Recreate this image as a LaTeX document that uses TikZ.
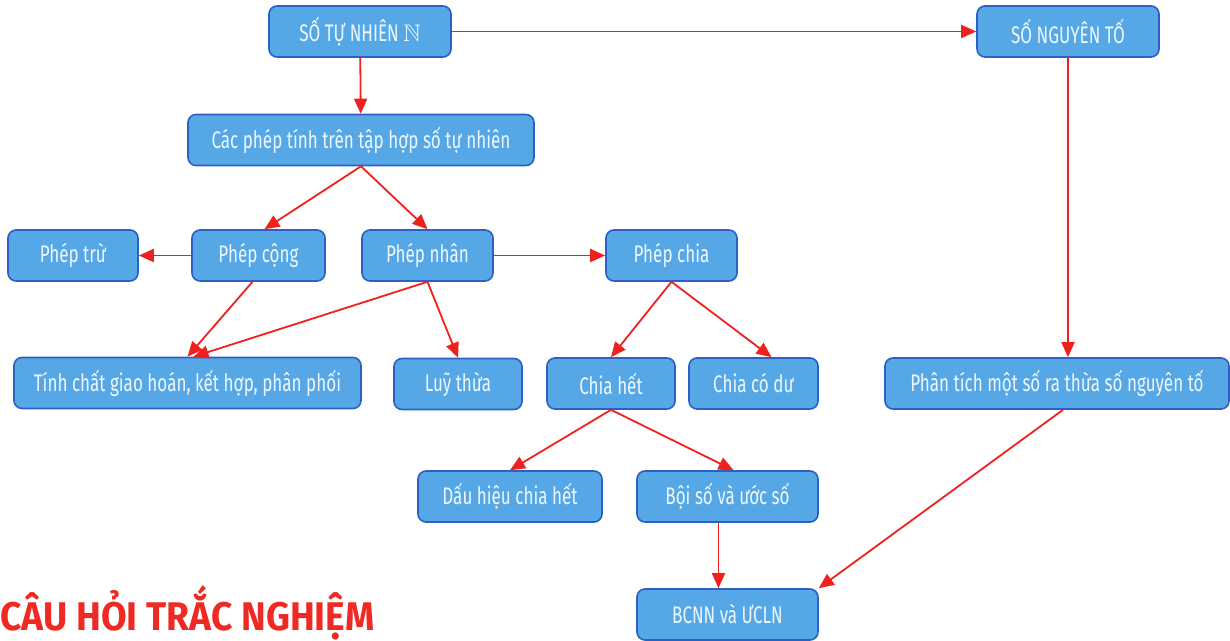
\documentclass[tikz,border=0pt]{standalone}
\usepackage{amssymb}
\usepackage{fontspec}
\newfontfamily\boxfont{Fira Sans}[FakeStretch=0.71]
\newfontfamily\titlefont{Fira Sans}[FakeStretch=0.93]
\usetikzlibrary{arrows.meta}
\definecolor{boxfill}{HTML}{55A8E5}
\definecolor{boxline}{HTML}{2E5FC2}
\definecolor{boxtext}{HTML}{EEF6FD}
\definecolor{arrowred}{HTML}{F0201C}
\definecolor{titlered}{HTML}{EE2A24}

\tikzset{
    box/.style={draw=boxline, fill=boxfill, line width=0.8pt, rounded corners=4pt,
        text=boxtext, font=\boxfont\fontsize{12}{14}\selectfont,
        minimum height=25.5pt, inner sep=2pt},
    link/.style={draw=arrowred, line width=0.9pt, -{Triangle[length=7.5pt,width=6.5pt]}}
}

\begin{document}
\begin{tikzpicture}[x=0.5pt, y=-0.5pt]
    \useasboundingbox (0,0) rectangle (1230,641);

    \node[box, minimum width=91pt] (natural) at (360,31.5) {SỐ TỰ NHIÊN $\mathbb{N}$};
    \node[box, minimum width=91pt] (prime) at (1068,31.5) {SỐ NGUYÊN TỐ};
    \node[box, minimum width=173pt] (ops) at (361,140) {Các phép tính trên tập hợp số tự nhiên};

    \node[box, minimum width=65pt] (sub) at (73,255.5) {Phép trừ};
    \node[box, minimum width=66.5pt] (add) at (258.5,255.5) {Phép cộng};
    \node[box, minimum width=65.5pt] (mul) at (427.5,255.5) {Phép nhân};
    \node[box, minimum width=65.5pt] (div) at (671.5,255.5) {Phép chia};

    \node[box, minimum width=173.5pt] (laws) at (187.5,383) {Tính chất giao hoán, kết hợp, phân phối};
    \node[box, minimum width=64pt] (power) at (458,384) {Luỹ thừa};
    \node[box, minimum width=64pt] (exact) at (611,383.5) {Chia hết};
    \node[box, minimum width=64.5pt] (remainder) at (753.5,383.5) {Chia có dư};
    \node[box, minimum width=172pt] (factor) at (1057,383.5) {Phân tích một số ra thừa số nguyên tố};

    \node[box, minimum width=92pt] (signs) at (510,496.5) {Dấu hiệu chia hết};
    \node[box, minimum width=90.5pt] (multiples) at (727.5,496.5) {Bội số và ước số};
    \node[box, minimum width=90.5pt] (lcm) at (727.5,614.5) {BCNN và ƯCLN};

    \node[anchor=base west, inner sep=0pt, text=titlered,
        font=\titlefont\bfseries\fontsize{20}{22}\selectfont] (title) at (0,630) {CÂU HỎI TRẮC NGHIỆM};

    % connectors
    \draw[link] (natural) -- (prime);
    \draw[link] (natural) -- (ops);
    \draw[link] (ops.south) -- ([xshift=3pt]add.north);
    \draw[link] (ops.south) -- (mul.north);
    \draw[link] (add) -- (sub);
    \draw[link] (mul) -- (div);
    \draw[link] ([xshift=-3pt]add.south) -- (laws.north);
    \draw[link] (mul.south) -- ([xshift=3pt]laws.north);
    \draw[link] (mul.south) -- (power.north);
    \draw[link] (div.south) -- (exact.north);
    \draw[link] (div.south) -- ([xshift=9pt]remainder.north);
    \draw[link] (exact.south) -- (signs.north);
    \draw[link] (exact.south) -- ([xshift=3pt]multiples.north);
    \draw[link] ([xshift=-4.5pt]multiples.south) -- ([xshift=-4.5pt]lcm.north);
    \draw[link] (prime.south) -- (prime.south |- factor.north);
    \draw[link] ([xshift=3pt]factor.south) -- (lcm.north east);
\end{tikzpicture}
\end{document}
